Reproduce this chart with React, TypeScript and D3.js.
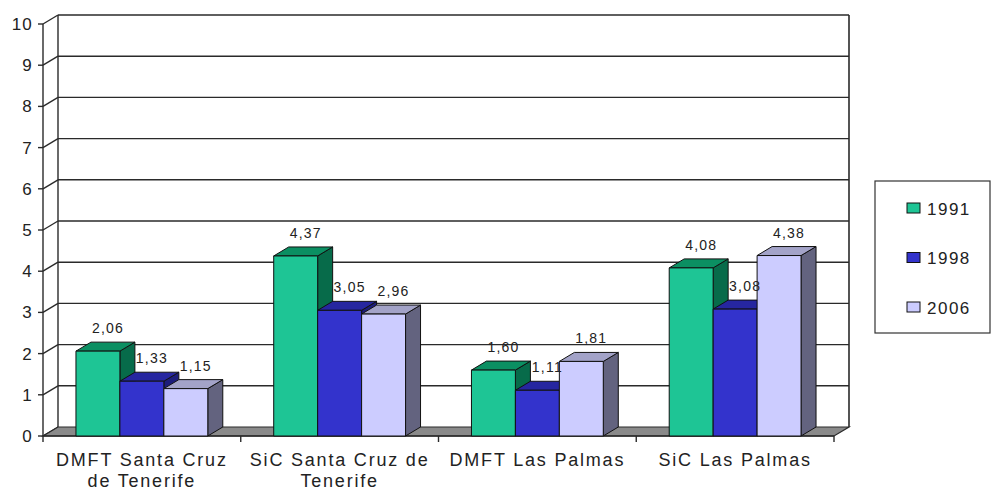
import React from "react";
import * as d3 from "d3";

const categories = [
  ["DMFT Santa Cruz", "de Tenerife"],
  ["SiC Santa Cruz de", "Tenerife"],
  ["DMFT Las Palmas"],
  ["SiC Las Palmas"],
];
const seriesNames = ["1991", "1998", "2006"];
const values1991 = [2.06, 4.37, 1.6, 4.08];
const values1998 = [1.33, 3.05, 1.11, 3.08];
const values2006 = [1.15, 2.96, 1.81, 4.38];
const labels1991 = ["2,06", "4,37", "1,60", "4,08"];
const labels1998 = ["1,33", "3,05", "1,11", "3,08"];
const labels2006 = ["1,15", "2,96", "1,81", "4,38"];
const yTicks = [0, 1, 2, 3, 4, 5, 6, 7, 8, 9, 10];

const seriesValues = [values1991, values1998, values2006];
const seriesLabels = [labels1991, labels1998, labels2006];
const colors = [
  { front: "#1ec595", top: "#0b8f62", side: "#076b4a" },
  { front: "#3333cc", top: "#2626a0", side: "#1c1c7a" },
  { front: "#ccccff", top: "#a3a3c8", side: "#63637f" },
];

const FONT = "'Liberation Sans', Arial, sans-serif";

export default function App() {
  const W = 992, H = 491;
  const x0 = 43, x1 = 834;
  const dx = 15, dy = -9;
  const y = d3.scaleLinear().domain([0, 10]).range([436, 24]);
  const xCat = d3.scaleBand<number>().domain(d3.range(categories.length)).range([x0, x1]).padding(0);
  const bw = xCat.bandwidth();
  const barW = bw / (seriesNames.length + 1.5);
  const gap = bw - barW * seriesNames.length;
  const xSer = d3.scaleBand<number>().domain(d3.range(seriesNames.length)).range([gap / 2, bw - gap / 2]).padding(0);
  const line = "#2a2a2a";

  const bars: React.ReactNode[] = [];
  const labels: React.ReactNode[] = [];
  categories.forEach((_, ci) => {
    seriesNames.forEach((_, si) => {
      const v = seriesValues[si][ci];
      const bx = (xCat(ci) as number) + (xSer(si) as number);
      const w = xSer.bandwidth();
      const yt = y(v), yb = y(0);
      const c = colors[si];
      const k = `${ci}-${si}`;
      bars.push(
        <g key={k} stroke="#111" strokeWidth={1} strokeLinejoin="round">
          <polygon points={`${bx + w},${yt} ${bx + w + dx},${yt + dy} ${bx + w + dx},${yb + dy} ${bx + w},${yb}`} fill={c.side} />
          <polygon points={`${bx},${yt} ${bx + dx},${yt + dy} ${bx + w + dx},${yt + dy} ${bx + w},${yt}`} fill={c.top} />
          <rect x={bx} y={yt} width={w} height={yb - yt} fill={c.front} />
        </g>
      );
      labels.push(
        <text key={k} x={bx + w / 2 + dx / 2 + 2.5} y={yt + dy - 9} textAnchor="middle" fontSize={14} letterSpacing={1.2} fill="#222" fontFamily={FONT}>
          {seriesLabels[si][ci]}
        </text>
      );
    });
  });

  return (
    <svg width={W} height={H} style={{ position: "absolute", left: 0, top: 0, background: "#fff" }} fontFamily={FONT}>
      <rect x={0} y={0} width={W} height={H} fill="#fff" />
      {yTicks.map((t) => (
        <g key={t} stroke={line} strokeWidth={1.4}>
          {t > 0 && <line x1={x0 + dx} x2={x1 + dx} y1={y(t) + dy} y2={y(t) + dy} />}
          <line x1={x0} x2={x0 + dx} y1={y(t)} y2={y(t) + dy} />
        </g>
      ))}
      <line x1={x0 + dx} x2={x0 + dx} y1={y(10) + dy} y2={y(0) + dy} stroke={line} strokeWidth={1.4} />
      <line x1={x1 + dx} x2={x1 + dx} y1={y(10) + dy} y2={y(0) + dy} stroke={line} strokeWidth={1.6} />
      <polygon points={`${x0},${y(0)} ${x1},${y(0)} ${x1 + dx},${y(0) + dy} ${x0 + dx},${y(0) + dy}`} fill="#8a8a8a" stroke={line} strokeWidth={1.2} />
      <line x1={x0} x2={x0} y1={y(10)} y2={y(0)} stroke={line} strokeWidth={1.4} />
      {yTicks.map((t) => (
        <g key={t}>
          <line x1={x0 - 5} x2={x0} y1={y(t)} y2={y(t)} stroke={line} strokeWidth={1.4} />
          <text x={33} y={y(t) + 6} textAnchor="end" fontSize={17} letterSpacing={1.2} fill="#222">{t}</text>
        </g>
      ))}
      <line x1={x0} x2={x1} y1={y(0)} y2={y(0)} stroke={line} strokeWidth={1.4} />
      {d3.range(categories.length + 1).map((i) => {
        const xx = x0 + i * bw;
        return <line key={i} x1={xx} x2={xx} y1={y(0)} y2={y(0) + 6} stroke={line} strokeWidth={1.4} />;
      })}
      {bars}
      {labels}
      {categories.map((lines, ci) => (
        <text key={ci} textAnchor="middle" fontSize={18} letterSpacing={1.8} fill="#222">
          {lines.map((l, li) => (
            <tspan key={li} x={(xCat(ci) as number) + bw / 2} y={466 + li * 20.5}>{l}</tspan>
          ))}
        </text>
      ))}
      <rect x={875} y={181} width={115} height={152} fill="#fff" stroke="#333" strokeWidth={1.2} />
      {seriesNames.map((s, si) => {
        const cy = 208 + si * 49.5;
        return (
          <g key={s}>
            <rect x={907} y={cy - 5} width={13} height={10} fill={colors[si].front} stroke="#111" strokeWidth={1} />
            <text x={927} y={cy + 6.5} fontSize={17} letterSpacing={1.5} fill="#222">{s}</text>
          </g>
        );
      })}
    </svg>
  );
}
